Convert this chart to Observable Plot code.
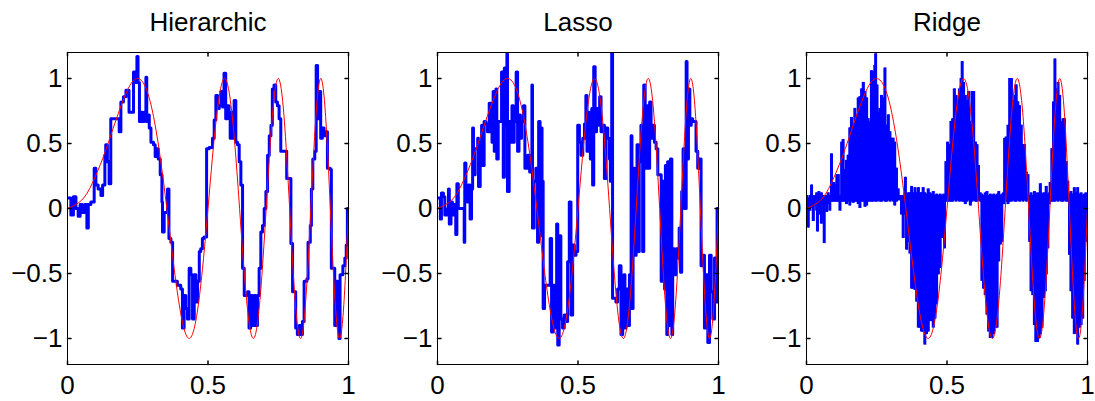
<!DOCTYPE html>
<html><head><meta charset="utf-8">
<script src="https://cdn.jsdelivr.net/npm/d3@7"></script>
<script src="https://cdn.jsdelivr.net/npm/@observablehq/plot@0.6"></script>
<style>
body{margin:0;background:#fff;}
#chart{position:relative;width:1095px;height:401px;overflow:hidden;font-family:"Liberation Sans",Arial,sans-serif;}
#chart svg{position:absolute;top:0;}
</style></head><body><div id="chart"></div>
<script>
const panelTitles = ["Hierarchic", "Lasso", "Ridge"];
const panelLefts = [0, 370, 739];
const xTicks = [0, 0.5, 1];
const xTickLabels = ["0", "0.5", "1"];
const yTicks = [-1, -0.5, 0, 0.5, 1];
const yTickLabels = ["−1", "−0.5", "0", "0.5", "1"];

// red: true signal [x, y]
const truth = [[0,0],[0.05,0.063],[0.0884,0.195],[0.125,0.383],[0.15,0.536],[0.1768,0.707],[0.2165,0.924],[0.25,1],[0.2795,0.924],[0.3062,0.707],[0.3307,0.383],[0.3536,0],[0.375,-0.383],[0.3953,-0.707],[0.4146,-0.924],[0.4330,-1],[0.4507,-0.924],[0.4677,-0.707],[0.4841,-0.383],[0.5,0],[0.5154,0.383],[0.5303,0.707],[0.5449,0.924],[0.5590,1],[0.5728,0.924],[0.5863,0.707],[0.5995,0.383],[0.6124,0],[0.625,-0.383],[0.6374,-0.707],[0.6495,-0.924],[0.6614,-1],[0.6731,-0.924],[0.6847,-0.707],[0.6960,-0.383],[0.7071,0],[0.7181,0.383],[0.7289,0.707],[0.7395,0.924],[0.75,1],[0.7603,0.924],[0.7706,0.707],[0.7806,0.383],[0.7906,0],[0.8004,-0.383],[0.8101,-0.707],[0.8197,-0.924],[0.8292,-1],[0.8385,-0.924],[0.8478,-0.707],[0.8570,-0.383],[0.8660,0],[0.875,0.383],[0.8839,0.707],[0.8927,0.924],[0.9014,1],[0.9100,0.924],[0.9186,0.707],[0.9270,0.383],[0.9354,0],[0.9437,-0.383],[0.9520,-0.707],[0.9601,-0.924],[0.9682,-1],[0.9763,-0.924],[0.9843,-0.707],[0.9922,-0.383],[1,0]];

// blue: Hierarchic estimate [x, y]
const hierarchic = [[0,0.08],[0.012,-0.05],[0.021,0.09],[0.030,0.0],[0.038,-0.06],[0.045,0.03],[0.053,-0.03],[0.062,0.03],[0.069,-0.15],[0.074,0.03],[0.083,0.05],[0.095,0.31],[0.101,0.18],[0.109,0.15],[0.119,0.10],[0.125,0.18],[0.133,0.41],[0.136,0.49],[0.142,0.36],[0.148,0.19],[0.154,0.69],[0.184,0.59],[0.190,0.82],[0.199,0.86],[0.208,0.91],[0.219,0.74],[0.235,1.05],[0.240,0.97],[0.247,1.17],[0.251,0.97],[0.256,0.67],[0.261,0.74],[0.267,0.67],[0.273,0.74],[0.279,1.01],[0.282,0.67],[0.287,0.72],[0.291,0.62],[0.297,0.51],[0.306,0.49],[0.312,0.40],[0.318,0.46],[0.323,0.38],[0.330,0.26],[0.336,0.05],[0.338,-0.18],[0.344,-0.03],[0.350,-0.03],[0.356,0.15],[0.361,-0.23],[0.368,-0.26],[0.374,-0.56],[0.380,-0.56],[0.391,-0.59],[0.403,-0.62],[0.409,-0.92],[0.415,-0.67],[0.421,-0.77],[0.427,-0.85],[0.433,-0.46],[0.439,-0.51],[0.445,-0.85],[0.451,-0.51],[0.457,-0.72],[0.463,-0.56],[0.469,-0.33],[0.474,-0.31],[0.480,-0.23],[0.486,-0.22],[0.495,0.46],[0.504,0.47],[0.516,0.54],[0.522,0.68],[0.528,0.87],[0.534,0.77],[0.540,0.79],[0.546,0.90],[0.552,0.78],[0.557,1.04],[0.563,0.69],[0.569,0.79],[0.575,0.74],[0.579,0.54],[0.584,0.74],[0.587,0.54],[0.593,0.83],[0.599,0.51],[0.605,0.49],[0.611,0.36],[0.617,0.18],[0.623,-0.46],[0.629,-0.67],[0.641,-0.64],[0.646,-0.92],[0.652,-0.67],[0.658,-0.90],[0.664,-0.67],[0.670,-0.90],[0.676,-0.67],[0.682,-0.46],[0.688,-0.18],[0.694,-0.13],[0.700,0.0],[0.706,0.13],[0.712,0.41],[0.718,0.56],[0.724,0.64],[0.729,0.92],[0.735,0.95],[0.741,0.82],[0.747,0.79],[0.753,0.69],[0.759,0.44],[0.771,0.44],[0.780,0.23],[0.795,-0.27],[0.801,-0.64],[0.812,-0.92],[0.818,-0.97],[0.824,-0.90],[0.830,-0.97],[0.836,-0.87],[0.842,-0.56],[0.852,-0.54],[0.856,-0.26],[0.864,-0.13],[0.868,0.15],[0.873,0.38],[0.880,0.44],[0.885,1.10],[0.890,0.69],[0.896,0.90],[0.901,0.54],[0.907,0.62],[0.913,0.56],[0.919,0.59],[0.925,0.31],[0.935,0.30],[0.939,-0.46],[0.947,-0.46],[0.951,-0.90],[0.956,-0.56],[0.961,-0.59],[0.966,-1.0],[0.970,-0.51],[0.975,-0.51],[0.980,-0.44],[0.987,-0.38],[0.992,-0.28],[0.996,0.0],[1.0,0.0]];

// blue: Lasso estimate [x, y]
const lasso = [[0,0.08],[0.010,-0.08],[0.014,0.12],[0.021,0.09],[0.026,-0.05],[0.036,0.0],[0.039,0.15],[0.042,-0.12],[0.048,0.05],[0.053,-0.05],[0.059,0.03],[0.065,-0.2],[0.069,0.19],[0.074,0.0],[0.089,0.0],[0.095,-0.26],[0.097,0.35],[0.101,0.10],[0.107,0.05],[0.110,0.18],[0.116,-0.08],[0.121,0.15],[0.125,0.62],[0.128,0.26],[0.134,0.46],[0.143,0.54],[0.146,0.17],[0.152,0.51],[0.157,0.64],[0.160,0.33],[0.166,0.67],[0.172,0.65],[0.178,0.59],[0.184,0.81],[0.190,0.59],[0.194,0.51],[0.198,0.90],[0.202,0.44],[0.208,0.92],[0.211,0.38],[0.216,0.67],[0.228,1.05],[0.234,0.24],[0.238,1.08],[0.244,0.64],[0.247,1.19],[0.249,0.13],[0.255,0.67],[0.261,0.51],[0.265,0.79],[0.270,0.51],[0.273,0.67],[0.280,1.05],[0.285,0.44],[0.290,0.72],[0.295,0.54],[0.299,0.67],[0.306,0.79],[0.311,0.31],[0.321,0.41],[0.328,0.28],[0.336,0.95],[0.338,-0.15],[0.344,0.21],[0.350,0.31],[0.356,-0.26],[0.360,0.67],[0.365,-0.21],[0.368,0.62],[0.372,0.21],[0.376,-0.77],[0.381,-0.59],[0.401,-0.23],[0.406,-0.95],[0.412,-0.59],[0.418,-0.92],[0.424,-0.12],[0.428,-1.05],[0.433,-0.21],[0.439,-0.85],[0.445,-0.92],[0.451,-0.82],[0.457,-0.87],[0.463,-0.41],[0.469,0.05],[0.475,-0.82],[0.481,-0.28],[0.487,-0.36],[0.493,-0.33],[0.499,0.64],[0.505,0.51],[0.511,0.41],[0.517,0.54],[0.523,0.65],[0.528,0.87],[0.532,0.44],[0.537,0.74],[0.540,0.59],[0.544,0.38],[0.549,0.77],[0.552,0.18],[0.556,1.09],[0.561,0.59],[0.566,0.77],[0.572,0.64],[0.577,0.86],[0.582,0.59],[0.588,0.64],[0.594,0.23],[0.600,0.62],[0.606,0.54],[0.612,0.38],[0.615,0.21],[0.620,1.2],[0.623,-0.69],[0.635,-0.72],[0.641,-0.62],[0.647,-0.44],[0.653,-0.97],[0.659,-0.67],[0.663,-0.51],[0.667,-0.92],[0.671,-0.62],[0.677,-0.90],[0.683,-0.51],[0.689,0.56],[0.692,-0.77],[0.696,0.31],[0.701,-0.36],[0.707,-0.21],[0.710,0.49],[0.715,-0.33],[0.718,0.36],[0.724,0.64],[0.730,-0.33],[0.734,0.95],[0.739,0.31],[0.746,0.79],[0.751,0.31],[0.755,0.82],[0.760,0.54],[0.766,0.64],[0.772,0.51],[0.778,0.46],[0.784,0.26],[0.796,-0.56],[0.802,0.21],[0.808,-0.62],[0.811,0.33],[0.816,-0.97],[0.819,0.36],[0.824,-0.90],[0.829,0.38],[0.834,-0.97],[0.837,-0.31],[0.843,-0.51],[0.849,-0.31],[0.855,-0.38],[0.860,-0.15],[0.865,-0.49],[0.869,0.13],[0.874,0.46],[0.879,0.0],[0.885,1.13],[0.888,0.38],[0.893,0.92],[0.898,0.64],[0.903,0.69],[0.908,0.67],[0.920,0.44],[0.926,0.31],[0.932,0.38],[0.938,-0.44],[0.944,-0.36],[0.950,-0.92],[0.956,-0.51],[0.962,-1.03],[0.968,-0.36],[0.974,-0.64],[0.980,-0.85],[0.986,-0.38],[0.992,-0.72],[0.995,0.0],[1.0,-0.3]];

// blue: Ridge estimate, dense oscillation between [x, low, high]
const ridge = [[0.000,-0.02,0.10],[0.006,-0.15,0.08],[0.012,-0.02,0.10],[0.018,0.00,0.18],[0.024,-0.10,0.10],[0.030,0.02,0.10],[0.036,-0.02,0.12],[0.039,-0.18,0.08],[0.044,0.02,0.13],[0.049,-0.05,0.10],[0.053,-0.12,0.12],[0.058,0.02,0.10],[0.063,-0.27,0.08],[0.068,0.02,0.10],[0.072,-0.03,0.10],[0.077,0.03,0.12],[0.083,-0.02,0.10],[0.089,0.05,0.42],[0.094,0.05,0.12],[0.098,0.05,0.20],[0.103,0.05,0.18],[0.108,0.05,0.26],[0.113,0.05,0.26],[0.119,-0.02,0.10],[0.125,0.05,0.51],[0.130,0.05,0.53],[0.136,0.05,0.30],[0.142,0.03,0.37],[0.148,0.05,0.41],[0.154,0.02,0.62],[0.160,0.05,0.70],[0.166,0.04,0.65],[0.172,0.05,0.77],[0.178,0.05,0.72],[0.184,0.03,0.85],[0.190,0.00,0.86],[0.196,0.05,0.92],[0.202,0.05,0.97],[0.208,0.01,0.90],[0.214,0.02,0.85],[0.219,0.05,0.69],[0.225,0.05,0.67],[0.231,0.05,1.06],[0.237,0.05,1.05],[0.243,0.06,1.10],[0.246,0.05,1.19],[0.251,0.05,0.95],[0.255,0.06,0.74],[0.261,0.05,0.77],[0.267,0.05,0.87],[0.273,0.06,0.85],[0.279,0.05,1.08],[0.285,0.05,0.64],[0.291,0.06,0.72],[0.297,0.05,0.59],[0.302,0.06,0.54],[0.308,0.05,0.54],[0.314,0.02,0.51],[0.320,0.05,0.31],[0.326,0.06,0.15],[0.332,0.06,0.10],[0.338,-0.05,0.10],[0.344,-0.23,0.10],[0.350,-0.05,0.12],[0.352,0.05,0.24],[0.356,-0.32,0.10],[0.362,-0.26,0.12],[0.368,-0.35,0.12],[0.374,-0.62,0.17],[0.380,-0.62,0.12],[0.386,-0.63,0.16],[0.392,-0.72,0.12],[0.398,-0.92,0.16],[0.404,-0.92,0.12],[0.409,-0.95,0.12],[0.415,-0.95,0.16],[0.421,-1.05,0.12],[0.427,-0.97,0.11],[0.433,-0.95,0.15],[0.439,-0.87,0.12],[0.445,-0.87,0.11],[0.451,-0.92,0.13],[0.457,-0.85,0.10],[0.463,-0.74,0.11],[0.469,-0.51,0.10],[0.475,-0.46,0.11],[0.482,-0.23,0.10],[0.488,-0.21,0.11],[0.491,-0.31,0.10],[0.496,0.05,0.36],[0.502,0.05,0.51],[0.508,0.05,0.49],[0.514,0.05,0.67],[0.520,0.05,0.69],[0.526,0.06,0.92],[0.532,0.05,0.87],[0.538,0.06,0.82],[0.544,0.05,0.92],[0.550,0.06,1.00],[0.554,0.05,1.13],[0.559,0.05,0.97],[0.565,0.03,0.87],[0.571,0.05,0.83],[0.577,0.06,0.90],[0.583,0.02,0.67],[0.589,0.05,0.90],[0.595,0.06,0.90],[0.601,0.05,0.51],[0.607,0.05,0.49],[0.612,0.06,0.33],[0.618,0.05,0.12],[0.624,-0.56,0.11],[0.630,-0.62,0.10],[0.636,-0.67,0.12],[0.642,-0.82,0.13],[0.648,-0.95,0.10],[0.654,-1.00,0.11],[0.660,-1.00,0.10],[0.666,-0.97,0.11],[0.672,-0.92,0.10],[0.678,-0.92,0.11],[0.684,-0.41,0.13],[0.690,-0.28,0.10],[0.695,-0.26,0.11],[0.701,0.03,0.12],[0.705,0.05,0.54],[0.711,0.05,0.55],[0.717,0.03,0.64],[0.723,0.05,1.00],[0.729,0.05,1.00],[0.735,0.06,0.83],[0.741,0.05,0.87],[0.746,0.05,0.95],[0.752,0.06,0.82],[0.758,0.05,0.79],[0.764,0.06,0.64],[0.770,0.05,0.49],[0.776,0.06,0.49],[0.782,0.05,0.28],[0.788,0.06,0.26],[0.794,-0.26,0.10],[0.799,-0.64,0.12],[0.805,-0.67,0.10],[0.811,-0.90,0.13],[0.816,-1.03,0.11],[0.822,-1.03,0.12],[0.828,-1.00,0.10],[0.832,-0.97,0.19],[0.838,-0.92,0.11],[0.844,-0.69,0.12],[0.850,-0.64,0.11],[0.853,-0.51,0.17],[0.859,-0.31,0.11],[0.864,0.03,0.12],[0.867,0.05,0.20],[0.873,0.05,0.46],[0.879,0.05,0.82],[0.884,0.05,1.15],[0.889,0.06,0.92],[0.895,0.05,0.97],[0.901,0.06,0.87],[0.907,0.05,0.67],[0.913,0.05,0.69],[0.918,0.06,0.69],[0.924,0.05,0.36],[0.930,0.05,0.21],[0.936,-0.36,0.11],[0.941,-0.64,0.13],[0.947,-0.85,0.11],[0.953,-0.97,0.16],[0.959,-0.95,0.12],[0.965,-1.05,0.16],[0.971,-0.92,0.11],[0.977,-0.90,0.12],[0.983,-0.85,0.10],[0.988,-0.56,0.11],[0.994,-0.26,0.12],[0.999,-0.05,0.10]];

const BLUE = "#0000ff", RED = "#ff0000";
const tickShape = {draw(context, l) { context.moveTo(0, 0); context.lineTo(0, -l); }};
const fmtX = d => xTickLabels[xTicks.indexOf(d)];
const fmtY = d => yTickLabels[yTicks.indexOf(d)];

const fits = [
  [Plot.line(hierarchic, {x: d => d[0], y: d => d[1], stroke: BLUE, strokeWidth: 3, curve: "step-after", clip: true})],
  [Plot.line(lasso, {x: d => d[0], y: d => d[1], stroke: BLUE, strokeWidth: 3, curve: "step-after", clip: true})],
  [
    Plot.areaY(ridge, {x: d => d[0], y1: d => d[1], y2: d => d[2], fill: BLUE, curve: "step-after", clip: true}),
    Plot.ruleX(ridge, {x: d => d[0], y1: d => d[1], y2: d => d[2], stroke: BLUE, strokeWidth: 3, clip: true})
  ]
];

const chart = document.getElementById("chart");
panelTitles.forEach((title, i) => {
  const svg = Plot.plot({
    width: 356, height: 401,
    marginLeft: 67, marginRight: 8, marginTop: 52, marginBottom: 37,
    style: {fontFamily: "'Liberation Sans', Arial, sans-serif", fontSize: "26px", background: "transparent", color: "#000"},
    x: {domain: [0, 1], label: null},
    y: {domain: [-1.2, 1.2], label: null},
    marks: [
      ...fits[i],
      Plot.line(truth, {x: d => d[0], y: d => d[1], stroke: RED, strokeWidth: 1, curve: "natural", clip: true}),
      Plot.frame({stroke: "#000", strokeWidth: 1}),
      Plot.vector(xTicks, {x: d => d, frameAnchor: "bottom", rotate: 0, length: 3.5, anchor: "start", shape: tickShape, stroke: "#000"}),
      Plot.vector(xTicks, {x: d => d, frameAnchor: "top", rotate: 180, length: 3.5, anchor: "start", shape: tickShape, stroke: "#000"}),
      Plot.vector(yTicks, {y: d => d, frameAnchor: "left", rotate: 90, length: 3.5, anchor: "start", shape: tickShape, stroke: "#000"}),
      Plot.vector(yTicks, {y: d => d, frameAnchor: "right", rotate: -90, length: 3.5, anchor: "start", shape: tickShape, stroke: "#000"}),
      Plot.axisX(xTicks, {anchor: "bottom", tickSize: 0, tickPadding: 11, fontSize: 26, tickFormat: fmtX, label: null}),
      Plot.axisY(yTicks, {anchor: "left", tickSize: 0, tickPadding: 5, fontSize: 26, tickFormat: fmtY, label: null}),
      Plot.text([title], {text: d => d, frameAnchor: "top", dy: -30, lineAnchor: "middle", fontSize: 26, fill: "#000"})
    ]
  });
  svg.style.left = panelLefts[i] + "px";
  chart.appendChild(svg);
});
</script>
</body></html>
